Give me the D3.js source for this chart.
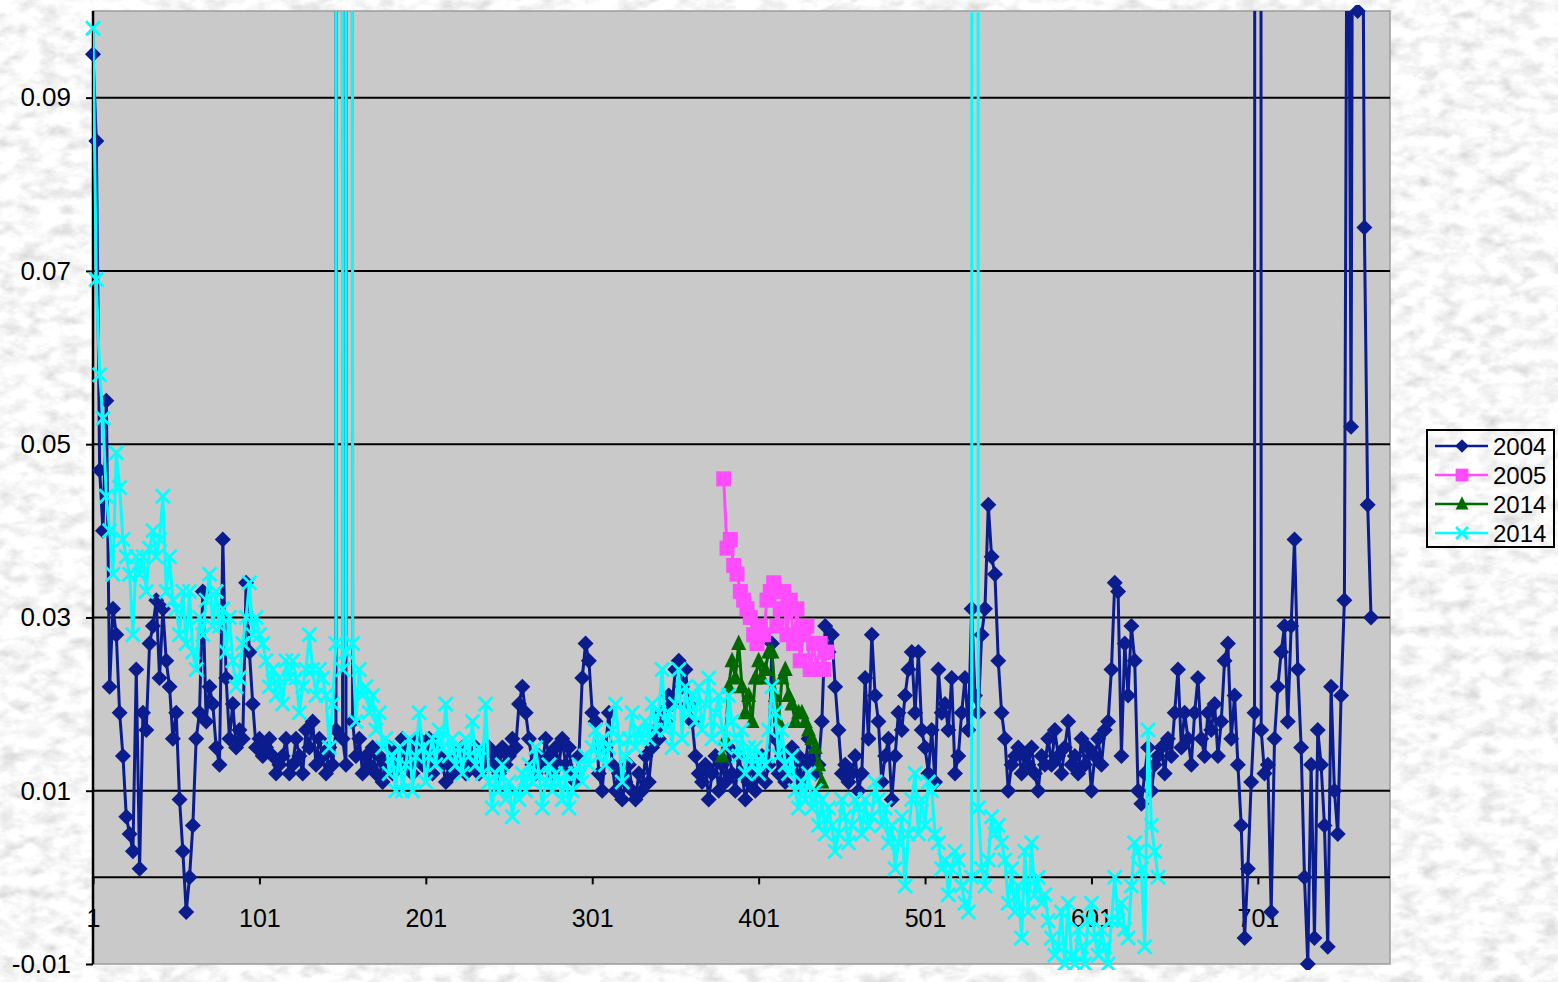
<!DOCTYPE html>
<html><head><meta charset="utf-8">
<script src="https://cdn.jsdelivr.net/npm/d3@7"></script>
<style>body{margin:0;overflow:hidden;background:#fff}svg{display:block}</style>
</head><body>
<svg id="chart" width="1558" height="982"></svg>
<script>
// ---------- data ----------
const xTickLabels = [1,101,201,301,401,501,601,701];
const yTickValues = [-0.01,0.01,0.03,0.05,0.07,0.09];
const gridValues = [0.01,0.03,0.05,0.07,0.09];
const seriesNames = ["2004","2005","2014","2014"];
const indexStep = 2;               // values sampled every 2nd row
const start2004 = 1, start2005 = 380, start2014a = 379, start2014b = 1;

const v2004 = [
0.095,0.085,0.047,0.040,0.055,0.022,0.031,0.028,0.019,0.014,
0.007,0.005,0.003,0.024,0.001,0.019,0.017,0.027,0.029,0.032,
0.023,0.031,0.025,0.022,0.016,0.019,0.009,0.003,-0.004,0.000,
0.006,0.016,0.019,0.033,0.018,0.022,0.020,0.015,0.013,0.039,
0.023,0.016,0.020,0.015,0.017,0.016,0.034,0.026,0.020,0.015,
0.016,0.014,0.015,0.016,0.014,0.012,0.013,0.014,0.016,0.012,
0.013,0.016,0.014,0.012,0.017,0.015,0.018,0.013,0.016,0.014,
0.012,0.015,0.013,0.017,1.5,0.016,0.013,1.5,0.018,0.014,
0.016,0.012,0.014,0.013,0.015,0.012,0.014,0.011,0.013,0.015,
0.012,0.014,0.013,0.016,0.013,0.015,0.012,0.014,0.016,0.013,
0.013,0.016,0.012,0.015,0.014,0.013,0.011,0.013,0.012,0.014,
0.013,0.015,0.012,0.014,0.013,0.015,0.012,0.014,0.013,0.015,
0.013,0.014,0.012,0.015,0.013,0.014,0.016,0.015,0.020,0.022,
0.019,0.016,0.013,0.012,0.014,0.013,0.016,0.014,0.012,0.015,
0.013,0.016,0.013,0.015,0.012,0.011,0.014,0.023,0.027,0.025,
0.019,0.018,0.012,0.010,0.015,0.019,0.013,0.010,0.012,0.009,
0.011,0.013,0.010,0.009,0.012,0.010,0.014,0.011,0.015,0.017,
0.016,0.019,0.018,0.021,0.020,0.024,0.025,0.022,0.024,0.020,
0.018,0.014,0.012,0.011,0.013,0.009,0.012,0.014,0.010,0.013,
0.011,0.015,0.012,0.010,0.014,0.012,0.009,0.011,0.013,0.010,
0.012,0.014,0.011,0.013,0.027,0.016,0.012,0.014,0.011,0.013,
0.015,0.012,0.014,0.011,0.013,0.016,0.014,0.012,0.013,0.018,
0.029,0.026,0.028,0.022,0.017,0.012,0.013,0.011,0.012,0.014,
0.010,0.012,0.023,0.016,0.028,0.021,0.018,0.011,0.014,0.016,
0.009,0.014,0.019,0.017,0.021,0.024,0.026,0.019,0.026,0.017,
0.015,0.012,0.017,0.011,0.024,0.019,0.020,0.017,0.023,0.012,
0.014,0.019,0.023,0.017,0.031,0.021,0.019,0.028,0.031,0.043,
0.037,0.035,0.025,0.019,0.016,0.010,0.013,0.014,0.015,0.012,
0.014,0.013,0.015,0.012,0.010,0.014,0.013,0.016,0.013,0.017,
0.014,0.012,0.015,0.018,0.013,0.014,0.012,0.016,0.013,0.015,
0.010,0.014,0.016,0.013,0.017,0.018,0.024,0.034,0.033,0.014,
0.027,0.021,0.029,0.025,0.010,0.0085,0.012,0.015,0.010,0.013,
0.014,0.015,0.012,0.016,0.014,0.019,0.024,0.015,0.019,0.016,
0.013,0.019,0.023,0.016,0.014,0.019,0.017,0.020,0.014,0.018,
0.025,0.027,0.016,0.021,0.013,0.006,-0.007,0.001,0.011,0.019,
1.5,0.017,0.012,0.013,-0.004,0.016,0.022,0.026,0.029,0.018,
0.029,0.039,0.024,0.015,0.000,-0.010,0.013,-0.007,0.017,0.013,
0.006,-0.008,0.022,0.010,0.005,0.021,0.032,0.14,0.052,0.2,
0.1,0.16,0.075,0.043,0.030
];

const v2005 = [
0.046,0.038,0.039,0.036,0.035,0.033,0.032,0.031,0.030,0.028,
0.027,0.029,0.028,0.032,0.033,0.034,0.029,0.031,0.033,0.028,
0.032,0.027,0.031,0.025,0.028,0.029,0.024,0.027,0.024,0.027,
0.024,0.026
];

const v2014a = [
0.014,0.016,0.022,0.025,0.023,0.027,0.022,0.019,0.021,0.018,
0.023,0.025,0.023,0.024,0.026,0.026,0.021,0.018,0.023,0.024,
0.021,0.020,0.018,0.019,0.019,0.018,0.017,0.016,0.015,0.013,
0.011
];

const v2014b = [
0.098,0.069,0.058,0.053,0.044,0.040,0.035,0.049,0.045,0.039,
0.037,0.035,0.028,0.037,0.035,0.037,0.033,0.038,0.040,0.037,
0.039,0.044,0.033,0.037,0.032,0.031,0.028,0.033,0.027,0.033,
0.026,0.024,0.030,0.028,0.032,0.035,0.029,0.033,0.029,0.031,
0.026,0.030,0.025,0.022,0.023,0.027,0.030,0.034,0.028,0.030,
0.028,0.027,0.025,0.022,0.024,0.021,0.023,0.020,0.025,0.023,
0.025,0.023,0.019,0.022,0.024,0.028,0.024,0.021,0.024,0.023,
0.021,0.015,0.020,0.027,1.5,0.024,0.026,1.5,0.027,0.018,
0.024,0.021,0.022,0.019,0.021,0.017,0.019,0.015,0.016,0.012,
0.014,0.010,0.015,0.010,0.013,0.016,0.010,0.014,0.019,0.015,
0.011,0.014,0.016,0.013,0.017,0.015,0.020,0.014,0.016,0.013,
0.015,0.012,0.016,0.014,0.018,0.013,0.015,0.012,0.020,0.011,
0.008,0.012,0.010,0.013,0.009,0.011,0.007,0.010,0.009,0.012,
0.010,0.013,0.011,0.015,0.012,0.008,0.011,0.013,0.010,0.012,
0.011,0.009,0.012,0.008,0.010,0.012,0.013,0.011,0.014,0.013,
0.015,0.017,0.014,0.016,0.013,0.015,0.017,0.020,0.016,0.011,
0.014,0.016,0.019,0.015,0.017,0.016,0.018,0.016,0.020,0.017,
0.019,0.024,0.017,0.019,0.015,0.020,0.024,0.016,0.022,0.019,
0.021,0.018,0.022,0.017,0.020,0.023,0.016,0.019,0.021,0.017,
0.015,0.021,0.018,0.016,0.014,0.017,0.012,0.015,0.013,0.015,
0.012,0.014,0.013,0.017,0.022,0.019,0.014,0.017,0.013,0.012,
0.014,0.010,0.008,0.011,0.009,0.012,0.008,0.010,0.006,0.009,
0.005,0.008,0.006,0.003,0.005,0.009,0.007,0.004,0.006,0.009,
0.008,0.005,0.009,0.006,0.007,0.011,0.009,0.006,0.008,0.004,
0.006,0.001,0.004,0.007,-0.001,0.005,0.009,0.012,0.005,0.009,
0.006,0.011,0.010,0.005,0.004,0.001,0.002,-0.002,0.001,0.003,
0.002,-0.001,-0.003,-0.004,0.000,1.5,0.008,0.001,-0.001,0.002,
0.007,0.005,0.006,0.004,0.002,-0.003,0.001,-0.004,-0.001,-0.007,
0.003,-0.004,0.004,-0.002,0.000,-0.003,-0.002,-0.005,-0.007,-0.009,
-0.008,-0.004,-0.010,-0.003,-0.009,-0.010,-0.006,-0.008,-0.010,-0.005,
-0.003,-0.007,-0.009,-0.006,-0.008,-0.010,-0.005,0.000,-0.005,-0.003,
-0.006,-0.007,-0.001,0.004,0.003,0.001,-0.008,0.017,0.006,0.003,0.000
];

// ---------- setup ----------
const W = 1558, H = 982;
const plot = {left: 93, top: 11, right: 1390, bottom: 964};
const svg = d3.select("#chart");
const x = d3.scaleLinear().domain([1, 780.4]).range([plot.left, plot.right]);
const y = d3.scaleLinear().domain([-0.01, 0.1]).range([plot.bottom, plot.top]);
const FONT = "'Liberation Sans', Arial, sans-serif";

const defs = svg.append("defs");
const f = defs.append("filter").attr("id","marble").attr("x",0).attr("y",0).attr("width","100%").attr("height","100%");
f.append("feTurbulence").attr("type","fractalNoise").attr("baseFrequency","0.05 0.08").attr("numOctaves",5).attr("seed",11).attr("result","n");
f.append("feColorMatrix").attr("in","n").attr("type","matrix")
 .attr("values","0.42 0.42 0 0 0.52  0.42 0.42 0 0 0.52  0.42 0.42 0 0 0.52  0 0 0 0 1");
defs.append("clipPath").attr("id","plotClip").append("rect")
  .attr("x",plot.left).attr("y",plot.top).attr("width",plot.right-plot.left).attr("height",plot.bottom-plot.top);
defs.append("clipPath").attr("id","markClip").append("rect")
  .attr("x",plot.left-10).attr("y",plot.top-6).attr("width",plot.right-plot.left+20).attr("height",plot.bottom-plot.top+12);

// background
svg.append("rect").attr("width",W).attr("height",H).attr("fill","#fff").attr("filter","url(#marble)");
// plot area
svg.append("rect").attr("x",plot.left).attr("y",plot.top)
  .attr("width",plot.right-plot.left).attr("height",plot.bottom-plot.top)
  .attr("fill","#c9c9c9").attr("stroke","#9c9c9c").attr("stroke-width",1.5);

// gridlines
svg.append("g").selectAll("line").data(gridValues).join("line")
  .attr("x1",plot.left).attr("x2",plot.right)
  .attr("y1",d=>y(d)).attr("y2",d=>y(d))
  .attr("stroke","#000").attr("stroke-width",2);

// y axis
const yAxis = svg.append("g").attr("transform",`translate(${plot.left},0)`)
  .call(d3.axisLeft(y).tickValues(yTickValues).tickSize(7).tickPadding(15).tickFormat(d=>d.toFixed(2)));
yAxis.select(".domain").attr("stroke","#000").attr("stroke-width",2.5).attr("d",`M0,${plot.top}V${plot.bottom}`);
yAxis.selectAll(".tick line").attr("stroke","#000").attr("stroke-width",2);
yAxis.selectAll("text").attr("font-family",FONT).attr("font-size",26).attr("fill","#000");

// x axis at zero
const xAxis = svg.append("g").attr("transform",`translate(0,${y(0)})`)
  .call(d3.axisBottom(x).tickValues(xTickLabels).tickSize(7).tickPadding(25).tickFormat(d3.format("d")));
xAxis.select(".domain").attr("stroke","#000").attr("stroke-width",2).attr("d",`M${plot.left},0H${plot.right}`);
xAxis.selectAll(".tick line").attr("stroke","#000").attr("stroke-width",2);
xAxis.selectAll("text").attr("font-family",FONT).attr("font-size",25).attr("fill","#000");

// ---------- series ----------
const toPts = (vals, start) => vals.map((v,k)=>({i: start + indexStep*k, v}));
const series = [
  {name: seriesNames[0], pts: toPts(v2004,start2004),  color:"#0a1c8e", marker:"diamond"},
  {name: seriesNames[1], pts: toPts(v2005,start2005),  color:"#ff4cff", marker:"square"},
  {name: seriesNames[2], pts: toPts(v2014a,start2014a),color:"#006a00", marker:"triangle"},
  {name: seriesNames[3], pts: toPts(v2014b,start2014b),color:"#00ffff", marker:"x"}
];

function drawMarker(g, type, color, s){
  s = s || 1;
  if(type==="diamond") g.append("path").attr("d",`M0,${-8*s}L${8*s},0L0,${8*s}L${-8*s},0Z`).attr("fill",color);
  else if(type==="square") g.append("rect").attr("x",-7.5*s).attr("y",-7.5*s).attr("width",15*s).attr("height",15*s).attr("fill",color);
  else if(type==="triangle") g.append("path").attr("d",`M0,${-9*s}L${7.5*s},${6.5*s}L${-7.5*s},${6.5*s}Z`).attr("fill",color);
  else if(type==="x") g.append("path").attr("d",`M${-7*s},${-7*s}L${7*s},${7*s}M${-7*s},${7*s}L${7*s},${-7*s}`).attr("stroke",color).attr("stroke-width",2.8).attr("fill","none");
}

const line = d3.line().x(d=>x(d.i)).y(d=>y(d.v));
series.forEach(s=>{
  const g = svg.append("g");
  g.append("path").datum(s.pts).attr("d",line).attr("fill","none")
    .attr("stroke",s.color).attr("stroke-width",3).attr("stroke-linejoin","round")
    .attr("clip-path","url(#plotClip)");
  const mg = g.append("g").attr("clip-path","url(#markClip)");
  mg.selectAll("g").data(s.pts.filter(d=>d.v<=0.102)).join("g")
    .attr("transform",d=>`translate(${x(d.i)},${y(d.v)})`)
    .each(function(){ drawMarker(d3.select(this), s.marker, s.color, 1); });
});

// ---------- legend ----------
const lg = svg.append("g");
lg.append("rect").attr("x",1427).attr("y",430).attr("width",127).attr("height",117)
  .attr("fill","none").attr("stroke","#000").attr("stroke-width",2);
series.forEach((s,j)=>{
  const cy = 446 + j*29;
  lg.append("line").attr("x1",1435).attr("x2",1488).attr("y1",cy).attr("y2",cy)
    .attr("stroke",s.color).attr("stroke-width",2.4);
  const m = lg.append("g").attr("transform",`translate(1462,${cy})`);
  drawMarker(m, s.marker, s.color, 0.85);
  lg.append("text").attr("x",1493).attr("y",cy+8.5).text(s.name)
    .attr("font-family",FONT).attr("font-size",24).attr("fill","#000");
});
</script>
</body></html>
